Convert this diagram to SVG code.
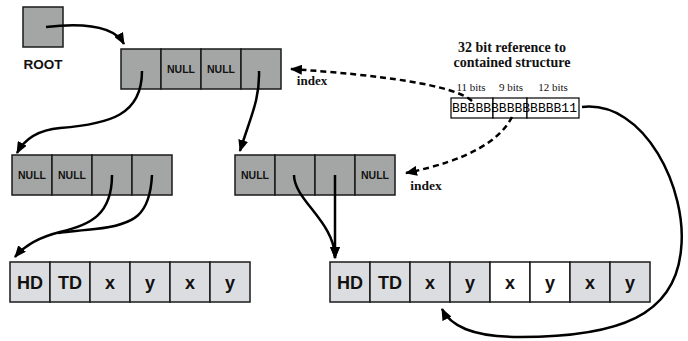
<svg xmlns="http://www.w3.org/2000/svg" width="688" height="341" viewBox="0 0 688 341">
<style>
.dk{fill:#a4a6a5;stroke:#1a1a1a;stroke-width:1.5}
.lt{fill:#dcdde0;stroke:#1a1a1a;stroke-width:1.5}
.wh{fill:#ffffff;stroke:#1a1a1a;stroke-width:1.5}
.bx{fill:#ffffff;stroke:#000;stroke-width:1.2}
.null{font-family:"Liberation Sans",Arial,sans-serif;font-weight:bold;font-size:10.5px;fill:#111;text-anchor:middle}
.big{font-family:"Liberation Sans",Arial,sans-serif;font-weight:bold;font-size:18px;fill:#111;text-anchor:middle}
.ser{font-family:"Liberation Serif","Times New Roman",serif;fill:#111;text-anchor:middle}
.ln{fill:none;stroke:#000;stroke-width:2.5}
.ds{fill:none;stroke:#000;stroke-width:2.5;stroke-dasharray:6 4}
</style>
<defs>
<marker id="ah" markerWidth="12" markerHeight="10" refX="11" refY="5" orient="auto" markerUnits="userSpaceOnUse">
<path d="M0,0 L12,5 L0,10 z" fill="#000"/>
</marker>
</defs>

<g id="root">
<rect class="dk" x="23" y="7" width="40" height="40"/>
<text x="43" y="69" font-family="Liberation Sans,Arial,sans-serif" font-weight="bold" font-size="13.5" text-anchor="middle" fill="#111">ROOT</text>
</g>

<g id="top-node">
<rect class="dk" x="121" y="49" width="40" height="40"/>
<rect class="dk" x="161" y="49" width="40" height="40"/>
<rect class="dk" x="201" y="49" width="40" height="40"/>
<rect class="dk" x="241" y="49" width="40" height="40"/>
<text class="null" x="181" y="73">NULL</text>
<text class="null" x="221" y="73">NULL</text>
</g>

<g id="left-node">
<rect class="dk" x="12" y="155" width="40" height="40"/>
<rect class="dk" x="52" y="155" width="40" height="40"/>
<rect class="dk" x="92" y="155" width="40" height="40"/>
<rect class="dk" x="132" y="155" width="40" height="40"/>
<text class="null" x="32" y="179">NULL</text>
<text class="null" x="72" y="179">NULL</text>
</g>

<g id="right-node">
<rect class="dk" x="235" y="155" width="40" height="40"/>
<rect class="dk" x="275" y="155" width="40" height="40"/>
<rect class="dk" x="315" y="155" width="40" height="40"/>
<rect class="dk" x="355" y="155" width="40" height="40"/>
<text class="null" x="255" y="179">NULL</text>
<text class="null" x="375" y="179">NULL</text>
</g>

<g id="left-leaf">
<rect class="lt" x="10" y="262" width="40" height="40"/>
<rect class="lt" x="50" y="262" width="40" height="40"/>
<rect class="lt" x="90" y="262" width="40" height="40"/>
<rect class="lt" x="130" y="262" width="40" height="40"/>
<rect class="lt" x="170" y="262" width="40" height="40"/>
<rect class="lt" x="210" y="262" width="40" height="40"/>
<text class="big" x="30" y="289">HD</text>
<text class="big" x="70" y="289">TD</text>
<text class="big" x="110" y="289">x</text>
<text class="big" x="150" y="289">y</text>
<text class="big" x="190" y="289">x</text>
<text class="big" x="230" y="289">y</text>
</g>

<g id="right-leaf">
<rect class="lt" x="330" y="262" width="40" height="40"/>
<rect class="lt" x="370" y="262" width="40" height="40"/>
<rect class="lt" x="410" y="262" width="40" height="40"/>
<rect class="lt" x="450" y="262" width="40" height="40"/>
<rect class="wh" x="490" y="262" width="40" height="40"/>
<rect class="wh" x="530" y="262" width="40" height="40"/>
<rect class="lt" x="570" y="262" width="40" height="40"/>
<rect class="lt" x="610" y="262" width="40" height="40"/>
<text class="big" x="350" y="289">HD</text>
<text class="big" x="390" y="289">TD</text>
<text class="big" x="430" y="289">x</text>
<text class="big" x="470" y="289">y</text>
<text class="big" x="510" y="289">x</text>
<text class="big" x="550" y="289">y</text>
<text class="big" x="590" y="289">x</text>
<text class="big" x="630" y="289">y</text>
</g>

<g id="reference">
<text class="ser" x="512" y="52" font-size="14" font-weight="bold">32 bit reference to</text>
<text class="ser" x="512" y="67" font-size="14" font-weight="bold">contained structure</text>
<text class="ser" x="471" y="91" font-size="11">11 bits</text>
<text class="ser" x="511" y="91" font-size="11">9 bits</text>
<text class="ser" x="553" y="91" font-size="11">12 bits</text>
<rect class="bx" x="451" y="98" width="42" height="20"/>
<rect class="bx" x="493" y="98" width="34" height="20"/>
<rect class="bx" x="527" y="98" width="52" height="20"/>
<text x="452" y="112" font-family="Liberation Mono,Courier New,monospace" font-size="13" textLength="125" lengthAdjust="spacingAndGlyphs" fill="#000">BBBBBBBBBBBBBB11</text>
</g>

<g id="labels">
<text class="ser" x="312" y="85" font-size="13" font-weight="bold">index</text>
<text class="ser" x="426" y="190" font-size="13.5" font-weight="bold">index</text>
</g>

<g id="connectors">
<path class="ln" d="M46,27 C90,22 115,28 124,44" marker-end="url(#ah)"/>
<path class="ln" d="M142,71 C142,115 110,124 60,128 C38,130 24,140 17,153" marker-end="url(#ah)"/>
<path class="ln" d="M259,71 C260,100 250,118 240,151" marker-end="url(#ah)"/>
<path class="ln" d="M112,175 C112,215 90,225 60,232 C40,237 25,245 15,257" marker-end="url(#ah)"/>
<path class="ln" d="M152,175 C150,215 135,225 95,229 C75,231 65,232 58,233"/>
<path class="ln" d="M294,175 C294,200 335,222 335,258" marker-end="url(#ah)"/>
<path class="ln" d="M335,175 L335,258" marker-end="url(#ah)"/>
<path class="ds" d="M472,101 C455,85 380,75 291,69" marker-end="url(#ah)"/>
<path class="ds" d="M512,117 C500,140 470,160 406,173" marker-end="url(#ah)"/>
<path class="ln" d="M582,107 C645,100 688,190 681,250 C675,315 620,337 520,337 C470,337 450,325 442,309" marker-end="url(#ah)"/>
</g>
</svg>
